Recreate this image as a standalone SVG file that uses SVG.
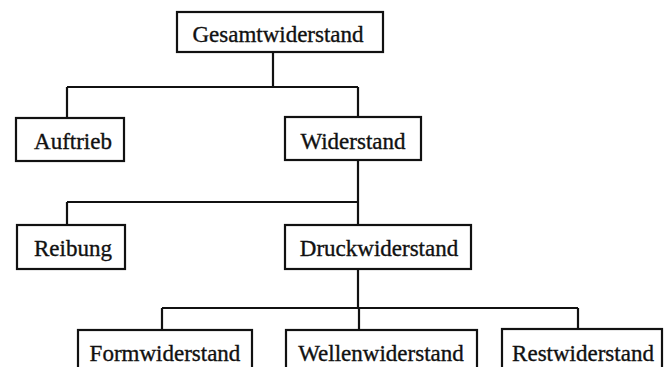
<svg xmlns="http://www.w3.org/2000/svg" width="671" height="367" viewBox="0 0 671 367">
<style>
.box{fill:#fff;stroke:#111;stroke-width:2.2}
.lbl{font-family:"Liberation Serif","Times New Roman",serif;font-size:23px;fill:#111;text-anchor:middle;stroke:#111;stroke-width:0.35}
.con{fill:none;stroke:#111;stroke-width:2.2}
</style>
<rect width="671" height="367" fill="#fff"/>
<g id="connectors">
<path class="con" d="M273 52V87M67 87H358M67 87V118M358 87V117"/>
<path class="con" d="M358 160V202M67 202H358M67 202V225M358 202V225"/>
<path class="con" d="M358 269V308M162 308H578M162 308V330M359 308V330M578 308V329"/>
</g>
<g id="n-gesamt"><rect class="box" x="177" y="12" width="206" height="40"/><text class="lbl" x="278" y="42">Gesamtwiderstand</text></g>
<g id="n-auftrieb"><rect class="box" x="16" y="118" width="108" height="43"/><text class="lbl" x="73" y="149">Auftrieb</text></g>
<g id="n-widerstand"><rect class="box" x="285" y="117" width="136" height="43"/><text class="lbl" x="353" y="149">Widerstand</text></g>
<g id="n-reibung"><rect class="box" x="17" y="225" width="108" height="44"/><text class="lbl" x="73" y="256">Reibung</text></g>
<g id="n-druck"><rect class="box" x="285" y="225" width="186" height="44"/><text class="lbl" x="379" y="256">Druckwiderstand</text></g>
<g id="n-form"><rect class="box" x="78" y="330" width="174" height="50"/><text class="lbl" x="165" y="361">Formwiderstand</text></g>
<g id="n-wellen"><rect class="box" x="286" y="330" width="191" height="50"/><text class="lbl" x="381" y="361">Wellenwiderstand</text></g>
<g id="n-rest"><rect class="box" x="502" y="329" width="160" height="51"/><text class="lbl" x="583" y="361">Restwiderstand</text></g>
</svg>
